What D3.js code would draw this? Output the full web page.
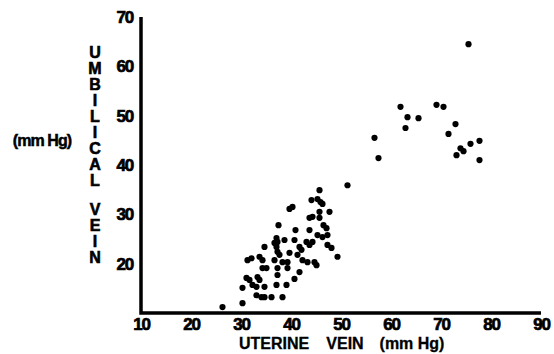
<!DOCTYPE html>
<html>
<head>
<meta charset="utf-8">
<script src="https://cdn.jsdelivr.net/npm/d3@7"></script>
<style>
    body { margin: 0; background: #fff; }
    svg { display: block; }
    text { font-family: "Liberation Sans", Arial, sans-serif; font-weight: bold; fill: #000; }
</style>
</head>
<body>
<div id="chart"></div>
<script>
// uterine vein pressure (mm Hg)
const uterineVein = [
    75.5, 61.9, 63.3, 65.5, 62.9, 69.1, 70.5, 72.9, 71.5, 56.7, 57.5, 51.3,
    73.9, 74.5, 73.1, 75.9, 77.7, 77.7,
    45.7, 44.1, 45.3, 45.9, 46.3, 39.7, 40.3, 45.7, 47.7, 43.7, 44.3, 45.7,
    46.5, 47.1, 37.5, 40.9, 43.7, 45.3, 46.3, 47.3, 37.1, 37.3, 36.7, 38.7,
    40.7, 43.1, 43.7, 44.3, 41.7, 42.1, 47.3, 48.1, 49.3, 39.7, 41.3, 42.3,
    43.3, 44.7, 45.1, 39.3, 39.3, 41.7, 34.7, 37.1, 37.3, 37.7, 31.3, 32.1,
    33.7, 34.3, 36.7, 38.3, 34.3, 35.1, 37.3, 31.1, 31.7, 33.3, 33.7, 37.3,
    40.7, 32.3, 33.1, 34.7, 30.3, 37.1, 39.1, 33.1, 34.1, 34.7, 36.1, 38.3,
    30.3, 26.3
];
// umbilical vein pressure (mm Hg), same order
const umbilicalVein = [
    64.5, 51.8, 49.7, 49.5, 47.5, 52.2, 51.8, 48.3, 46.3, 45.5, 41.4, 35.9,
    43.4, 42.8, 42.0, 44.3, 44.9, 41.0,
    34.9, 32.9, 33.1, 32.5, 32.1, 31.1, 31.5, 30.5, 30.5, 29.3, 29.5, 29.3,
    27.8, 27.2, 27.8, 26.8, 26.8, 25.8, 25.4, 25.8, 25.2, 24.4, 24.2, 24.8,
    24.8, 24.4, 23.8, 24.4, 23.4, 22.8, 23.8, 23.2, 21.4, 22.2, 21.8, 20.7,
    20.3, 20.3, 19.7, 20.3, 19.1, 18.3, 23.4, 23.4, 22.4, 21.8, 20.7, 21.1,
    21.4, 20.7, 20.7, 20.3, 19.1, 19.1, 19.1, 17.1, 16.7, 17.3, 16.7, 17.7,
    16.9, 15.7, 15.3, 15.3, 15.1, 15.7, 15.7, 13.6, 13.2, 13.2, 13.2, 13.2,
    12.0, 11.2
];

const xTicks = [10, 20, 30, 40, 50, 60, 70, 80, 90];
const yTicks = [20, 30, 40, 50, 60, 70];
const yTitleWords = ["UMBILICAL", "VEIN"];
const xTitleWords = ["UTERINE", "VEIN", "(mm Hg)"];
const unitLabel = "(mm Hg)";

const width = 554, height = 354;

const svg = d3.select("#chart")
    .append("svg")
    .attr("width", width)
    .attr("height", height);

const xScale = d3.scaleLinear()
    .domain([10, 90])
    .range([141, 541]);

const yScale = d3.scaleLinear()
    .domain([10, 70])
    .range([313, 17]);

const xAxis = d3.axisBottom(xScale)
    .tickValues(xTicks)
    .tickFormat(d3.format("d"))
    .tickSize(0)
    .tickPadding(5);

const yAxis = d3.axisLeft(yScale)
    .tickValues(yTicks)
    .tickFormat(d3.format("d"))
    .tickSize(0)
    .tickPadding(8);

const gx = svg.append("g")
    .attr("transform", "translate(0," + yScale(10) + ")")
    .call(xAxis);

const gy = svg.append("g")
    .attr("transform", "translate(" + xScale(10) + ",0)")
    .call(yAxis);

[gx, gy].forEach(g => {
    g.select(".domain").remove();
    g.selectAll(".tick text")
        .style("fill", "#000")
        .style("stroke", "#000")
        .style("stroke-width", "0.7px")
        .style("font-family", "'Liberation Sans', Arial, sans-serif")
        .style("font-weight", "bold")
        .style("font-size", "17px")
        .style("letter-spacing", "-1.2px");
});

// heavy axis lines
svg.append("path")
    .attr("d", "M" + xScale(10) + "," + yScale(70) +
        "V" + yScale(10) + "H" + xScale(90))
    .attr("fill", "none")
    .attr("stroke", "#000")
    .attr("stroke-width", 3.5)
    .attr("stroke-linejoin", "miter");

// points
const points = uterineVein.map((u, i) => [u, umbilicalVein[i]]);
svg.append("g")
    .selectAll("circle")
    .data(points)
    .join("circle")
    .attr("cx", d => xScale(d[0]))
    .attr("cy", d => yScale(d[1]))
    .attr("r", 3.1)
    .attr("fill", "#000");

// vertical stacked y title
const yLetters = [];
let yPos = 52;
yTitleWords.forEach((w, wi) => {
    if (wi > 0) yPos += 13;
    w.split("").forEach(ch => {
        yLetters.push({ ch: ch, y: yPos });
        yPos += 16;
    });
});
svg.append("g")
    .selectAll("text")
    .data(yLetters)
    .join("text")
    .attr("x", 95)
    .attr("y", d => d.y)
    .attr("dy", "0.35em")
    .attr("text-anchor", "middle")
    .style("font-size", "16px")
    .style("stroke", "#000")
    .style("stroke-width", "0.6px")
    .text(d => d.ch);

svg.append("text")
    .attr("x", 42)
    .attr("y", 140)
    .attr("dy", "0.35em")
    .attr("text-anchor", "middle")
    .style("font-size", "16px")
    .style("letter-spacing", "-0.9px")
    .style("stroke", "#000")
    .style("stroke-width", "0.5px")
    .text(unitLabel);

// x title, words spaced out
const xTitleX = [274, 345, 412];
svg.append("g")
    .selectAll("text")
    .data(xTitleWords)
    .join("text")
    .attr("x", (d, i) => xTitleX[i])
    .attr("y", 349)
    .attr("text-anchor", "middle")
    .style("font-size", "16px")
    .style("stroke", "#000")
    .style("stroke-width", "0.3px")
    .text(d => d);
</script>
</body>
</html>
